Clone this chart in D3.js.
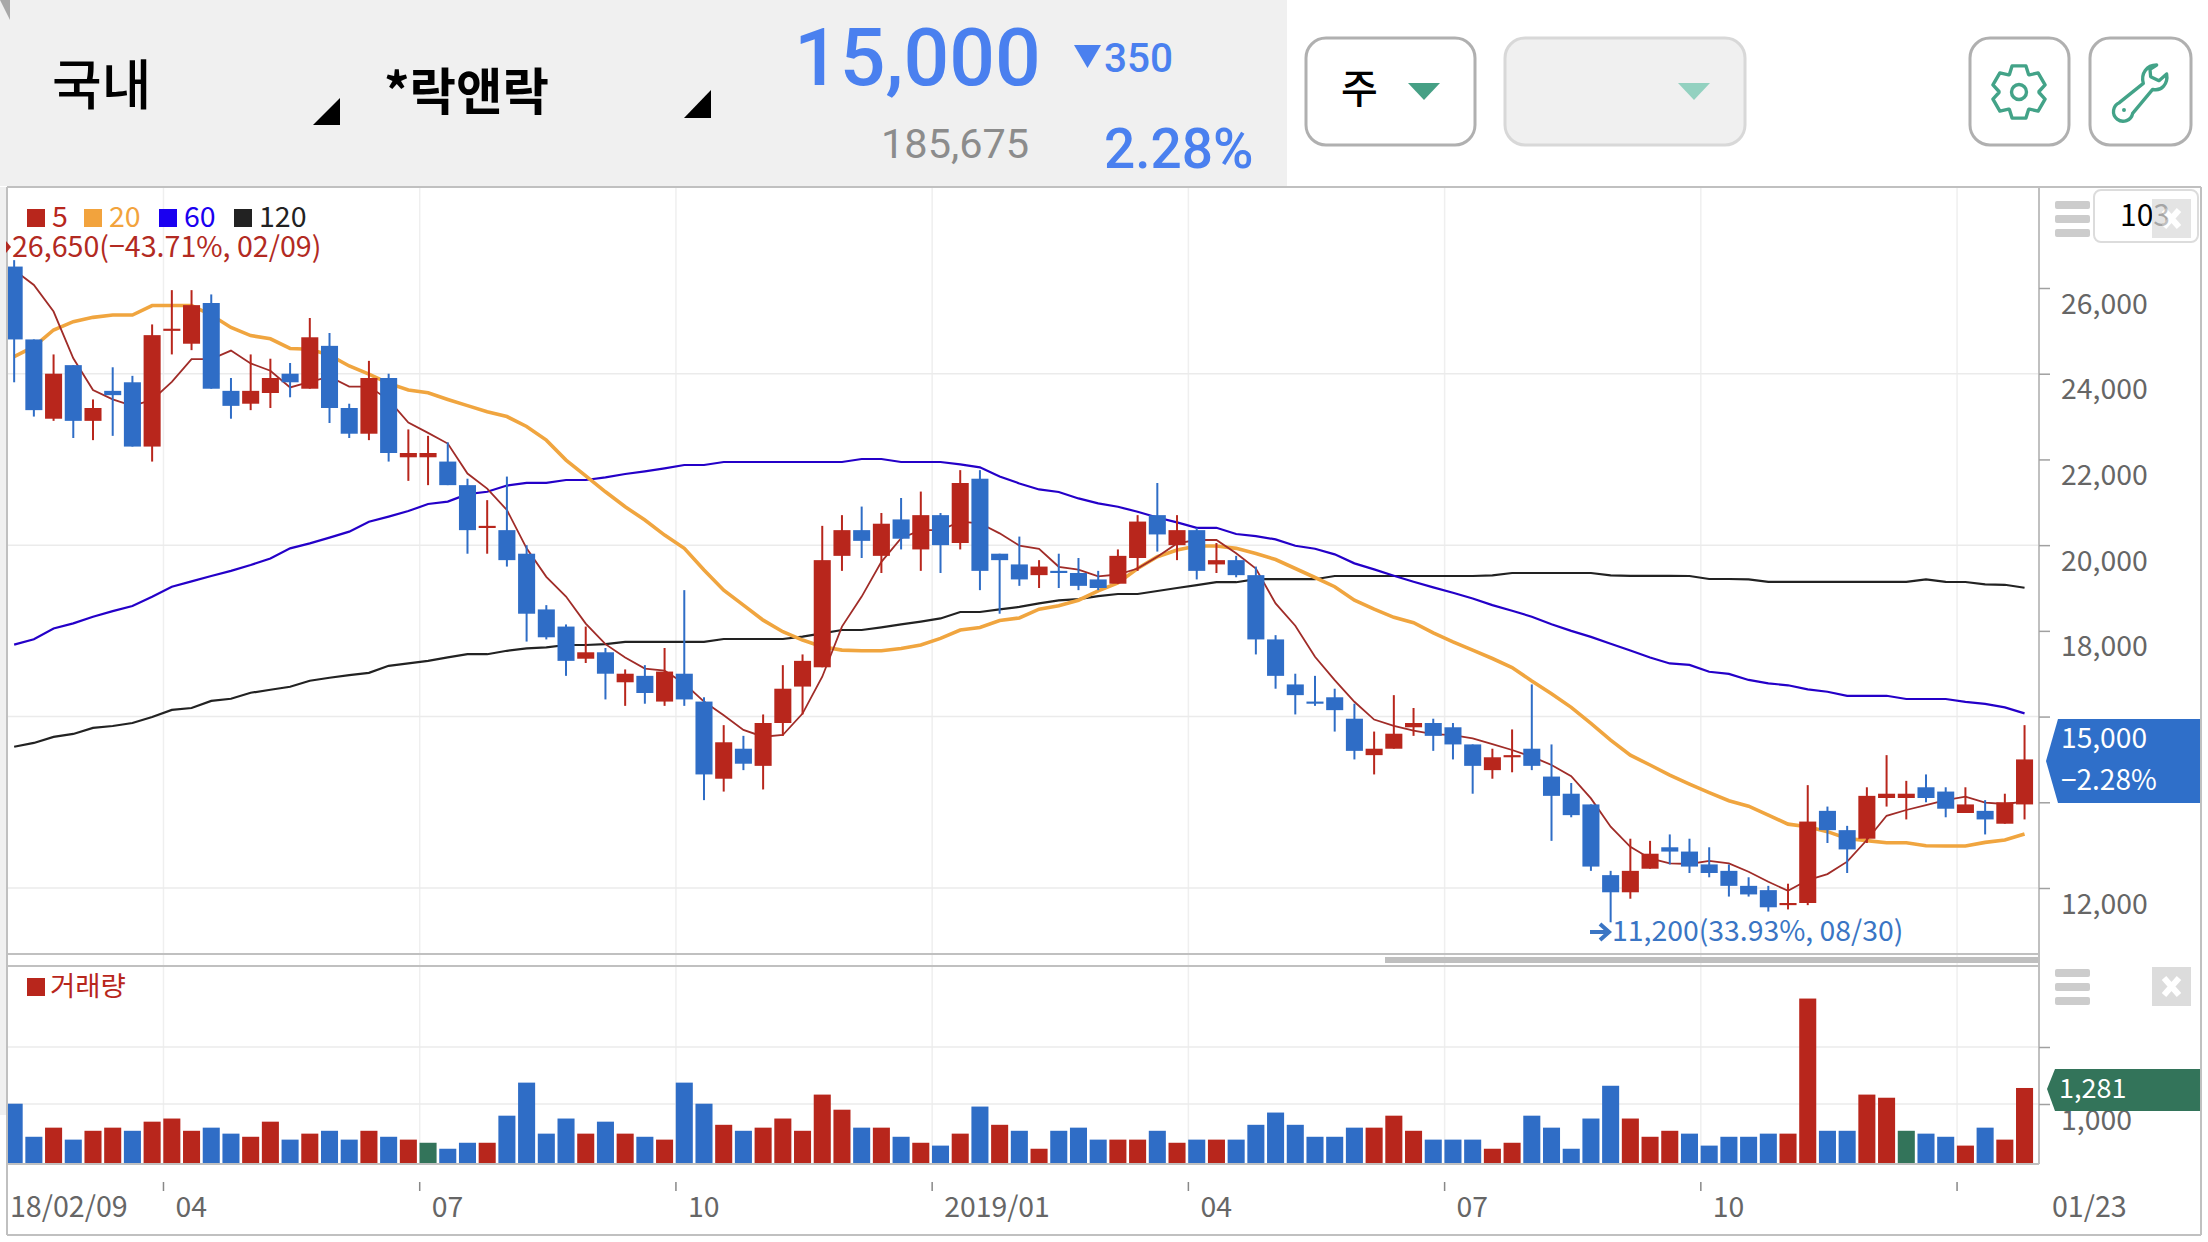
<!DOCTYPE html>
<html>
<head>
<meta charset="utf-8">
<script src="https://d3js.org/d3.v7.min.js"></script>
<style>
  html, body { margin: 0; padding: 0; background: #fff; }
  svg { display: block; }
  text { font-family: "Noto Sans CJK KR", "Noto Sans", sans-serif; }
</style>
</head>
<body>
<svg width="2208" height="1242"></svg>
<script>
// weekly candles
const highs = [26650,24800,24450,24200,23400,24150,23950,25150,25950,25950,25850,23900,24450,24350,24250,25300,24950,23300,24300,24000,22700,22550,22400,21550,21050,21600,20000,18600,18150,18100,17600,17100,17200,17600,18950,16450,15800,15550,16050,17200,17450,20450,20700,20900,20750,21100,21250,20750,21750,21750,19800,20200,19650,19800,19700,19400,19900,20700,21450,20700,20400,20050,19750,19500,17900,17000,16950,16650,16300,15650,16500,16200,15950,15850,15350,15250,15700,16750,15350,14450,13950,12400,13150,13100,13250,13150,12950,12550,12250,12050,12100,14400,13900,13450,14350,15100,14500,14650,14350,14350,14050,14200,15800];
const lows = [23800,23000,22900,22500,22450,22550,22300,21950,24450,24550,23650,22950,23150,23200,23450,23650,22850,22500,22450,21950,21500,21400,21400,19800,19800,19500,17750,17800,16950,17250,16400,16250,16300,16250,16250,14050,14250,14750,14300,15550,16050,17150,19400,19700,19350,19900,19400,19350,19900,18950,18400,19050,19000,19000,18950,18950,19100,19400,19850,19650,19200,19350,19250,17450,16650,16050,16250,15650,15000,14650,15250,15550,15200,15000,14200,14550,14700,14750,13100,13650,12400,11200,11750,12450,12550,12350,12250,11800,11800,11450,11500,11600,13050,12350,13050,13900,13600,14000,13650,13750,13250,13500,13600];
const opens = [26500,24800,22950,24200,22900,23600,23800,22300,25000,24700,25650,23600,23300,23550,24000,23650,24650,23200,22600,23900,22050,22050,21950,21400,20400,20350,19800,18500,18100,17350,17500,16800,16950,16350,17000,16350,14550,15250,14850,15850,16700,17150,19750,20350,19750,20600,19900,20700,20050,21550,19800,19550,19300,19400,19350,19200,19100,19700,20700,20000,20350,19550,19650,19300,17800,16750,16350,16450,15950,15100,15250,15750,15850,15750,15350,14750,15050,15250,14600,14200,13950,12300,11900,12450,12950,12850,12550,12400,12050,11950,11600,11650,13800,13350,13150,14100,14100,14350,14250,13750,13800,13500,13950];
const closes = [24800,23150,24000,22900,23200,23500,22300,24900,25050,25600,23650,23250,23600,23900,23800,24850,23200,22600,23900,22150,22150,22150,21400,20350,20450,19650,18400,17850,17300,17500,17000,17000,16550,17050,16400,14650,15400,14900,15850,16650,17300,19650,20350,20100,20500,20150,20700,20000,21450,19400,19650,19200,19500,19350,19050,19000,19750,20550,20250,20350,19400,19650,19300,17800,16950,16500,16300,16150,15200,15250,15600,15850,15550,15350,14850,15050,15100,14850,14150,13700,12500,11900,12400,12800,12850,12500,12350,12050,11850,11550,11650,13550,13350,12900,14150,14200,14200,14100,13850,13950,13600,14000,15000];

const ma5 = [26420,26070,25450,24360,23620,23400,23250,23390,23810,24340,24340,24540,24240,24070,23680,23810,23930,23700,23700,23390,22860,22620,22370,21670,21320,20820,19925,19260,18800,18170,17690,17380,17120,17070,16770,16350,16030,15690,15530,15570,16070,16930,18100,18800,19610,20160,20350,20350,20550,20510,20275,19990,19915,19495,19430,19270,19315,19455,19730,20040,20120,20120,19810,19455,18640,18120,17395,16850,16345,15930,15785,15670,15590,15565,15490,15355,15220,15065,14870,14610,14090,13430,12960,12690,12575,12560,12635,12575,12380,12145,11935,12185,12325,12615,13120,13685,13820,13935,14050,14130,13990,13960,14015];
const ma20 = [24400,24630,25020,25215,25315,25370,25370,25590,25590,25590,25370,25080,24890,24815,24590,24570,24435,24180,23990,23775,23620,23555,23400,23255,23115,23000,22770,22450,21985,21615,21245,20895,20585,20235,19925,19420,18950,18600,18250,17980,17785,17630,17550,17535,17535,17590,17670,17825,18020,18080,18240,18300,18505,18585,18715,18935,19120,19455,19730,19885,19980,19980,19925,19805,19665,19455,19245,19030,18715,18505,18315,18190,17955,17745,17550,17355,17145,16830,16530,16215,15840,15450,15100,14870,14635,14425,14225,14035,13910,13700,13490,13430,13315,13155,13105,13055,13055,12985,12980,12980,13065,13120,13260];
const ma60 = [17680,17805,18055,18175,18330,18460,18580,18795,19030,19155,19280,19400,19535,19690,19925,20040,20175,20315,20545,20665,20795,20960,21015,21190,21245,21390,21455,21455,21520,21520,21580,21660,21720,21790,21870,21870,21940,21940,21940,21940,21940,21940,21940,22010,22010,21940,21940,21940,21885,21815,21600,21440,21300,21240,21090,20975,20895,20780,20645,20530,20405,20405,20260,20210,20135,19985,19915,19785,19575,19435,19285,19145,19015,18890,18755,18600,18470,18330,18155,18000,17860,17700,17540,17380,17240,17205,17045,16995,16855,16775,16730,16635,16580,16485,16485,16485,16410,16410,16410,16345,16295,16215,16075];
const ma120 = [15295,15385,15525,15595,15735,15780,15850,15990,16155,16200,16365,16415,16555,16625,16695,16835,16905,16965,17020,17185,17240,17300,17380,17455,17455,17535,17590,17615,17670,17670,17690,17745,17745,17745,17745,17745,17810,17810,17810,17810,17865,17940,18020,18020,18080,18150,18215,18290,18440,18440,18500,18560,18640,18710,18740,18810,18860,18860,18930,19000,19065,19135,19135,19205,19205,19205,19205,19280,19280,19280,19280,19280,19280,19280,19280,19295,19350,19350,19350,19350,19350,19295,19285,19285,19285,19280,19210,19210,19200,19145,19145,19145,19145,19145,19145,19145,19145,19200,19145,19140,19085,19075,19005];

// volume, and its up(1) / down(-1) / flat(0) flag
const volume = [1005,425,585,375,530,585,530,690,745,530,585,480,425,690,375,480,530,375,530,425,375,320,215,320,320,795,1375,480,745,480,690,480,425,375,1375,1005,635,530,585,745,530,1165,900,585,585,425,320,270,480,955,635,530,215,530,585,375,375,375,530,320,375,375,375,635,850,635,425,425,585,585,795,530,375,375,375,215,320,795,585,215,745,1320,745,425,530,480,270,425,425,480,480,2850,530,530,1165,1110,530,480,425,270,585,375,1281];
const volumeDir = [-1,-1,1,-1,1,1,-1,1,1,1,-1,-1,1,1,-1,1,-1,-1,1,-1,1,0,-1,-1,1,-1,-1,-1,-1,1,-1,1,-1,1,-1,-1,1,-1,1,1,1,1,1,-1,1,-1,1,-1,1,-1,1,-1,1,-1,-1,-1,1,1,-1,1,-1,1,-1,-1,-1,-1,-1,-1,-1,1,1,1,-1,-1,-1,1,1,-1,-1,-1,-1,-1,1,1,1,-1,-1,-1,-1,-1,1,1,-1,-1,1,1,0,-1,-1,1,-1,1,1];

const priceTicks = [12000,14000,16000,18000,20000,22000,24000,26000];
const priceLabelled = [12000,18000,20000,22000,24000,26000];
const priceGrid = [12000,16000,20000,24000];
const volumeTicks = [1000,2000];
const volumeLabelled = [1000];
const monthIdx = [8,21,34,47,60,73,86,99];
const monthLabels = ["04","07","10","2019/01","04","07","10",""];
const firstDate = "18/02/09";
const lastDate = "01/23";
const legend = [["5","#b8261c"],["20","#f2a33d"],["60","#1a00f0"],["120","#222222"]];

const RED = "#b8261c", BLUE = "#2f6dc6", GREEN = "#33745a", ACCENT = "#4a80ef", TEAL = "#43a388";
const svg = d3.select("svg");

const x = d3.scaleBand().domain(d3.range(highs.length)).range([4.3, 2034.4])
    .paddingInner(0.135).paddingOuter(0.0675);
const cx = i => x(i) + x.bandwidth() / 2;
const gridX = i => cx(i) - x.step() / 2 + 1.5;
const y = d3.scaleLinear().domain([12000, 26000]).range([888, 288]);
const yVol = d3.scaleLinear().domain([1000, 2000]).range([1104, 1047]);
const VOL_BASE = 1164;

// header
svg.append("rect").attr("width", 1287).attr("height", 186).attr("fill", "#f0f0f0");
svg.append("path").attr("d", "M0,0L10,0L10,20Z").attr("fill", "#a8a8a8");

function label(t, px, py, size, fill, weight, anchor) {
  return svg.append("text").text(t).attr("x", px).attr("y", py)
    .attr("font-size", size).attr("fill", fill)
    .attr("font-weight", weight || 400).attr("text-anchor", anchor || "start");
}
label("국내", 52, 105, 54, "#000", 500);
svg.append("path").attr("d", "M340,98L340,125L313,125Z");
label("*락앤락", 384, 110, 50.5, "#000", 700);
svg.append("path").attr("d", "M711,90L711,118L684,118Z");
svg.append("text").text("15,000").attr("x", 794).attr("y", 85).attr("font-size", 80.5)
  .attr("font-weight", 500).attr("fill", ACCENT).style("font-family", "Roboto");
svg.append("path").attr("d", "M1074,45L1101,45L1087.5,68Z").attr("fill", ACCENT);
svg.append("text").text("350").attr("x", 1104).attr("y", 72).attr("font-size", 40.5)
  .attr("font-weight", 500).attr("fill", ACCENT).style("font-family", "Roboto");
svg.append("text").text("185,675").attr("x", 881).attr("y", 158).attr("font-size", 41.5)
  .attr("fill", "#8c8c8c").style("font-family", "Roboto");
svg.append("text").text("2.28%").attr("x", 1104).attr("y", 168).attr("font-size", 55)
  .attr("font-weight", 500).attr("fill", ACCENT).style("font-family", "Roboto");

// buttons
function button(x0, x1, fill, stroke) {
  svg.append("rect").attr("x", x0).attr("y", 38).attr("width", x1 - x0).attr("height", 107)
    .attr("rx", 20).attr("fill", fill).attr("stroke", stroke).attr("stroke-width", 3);
}
button(1306, 1475, "#fff", "#b0b0b0");
label("주", 1341, 103, 40, "#000", 500);
svg.append("path").attr("d", "M1408,83L1440,83L1424,100Z").attr("fill", "#46a085");
button(1505, 1745, "#f0f0f0", "#d8d8d8");
svg.append("path").attr("d", "M1678,83L1710,83L1694,100Z").attr("fill", "#93d1c0");
button(1970, 2069, "#fff", "#b0b0b0");
button(2090, 2191, "#fff", "#b0b0b0");

// gear outline: six teeth around a ring
const gearPts = [];
d3.range(6).forEach(k => {
  const a = -Math.PI / 2 + k * Math.PI / 3;
  [[-0.5, 20], [-0.26, 27], [0.26, 27], [0.5, 20]].forEach(([d, r]) => {
    gearPts.push([r * Math.cos(a + d), r * Math.sin(a + d)]);
  });
});
const gear = svg.append("g").attr("transform", "translate(2019,92)")
  .attr("fill", "none").attr("stroke", TEAL).attr("stroke-width", 3.4).attr("stroke-linejoin", "round");
gear.append("path").attr("d", d3.line()(gearPts) + "Z");
gear.append("circle").attr("r", 7.5);

const wrench = svg.append("g").attr("transform", "translate(1960,30) scale(0.3333)")
  .attr("fill", "none").attr("stroke", TEAL).attr("stroke-width", 10).attr("stroke-linejoin", "round");
wrench.append("path").attr("d", "M590,105C560,105 542,130 550,160L478,218A29,29 0 1 0 518,250L578,178C605,185 625,160 620,132L597,152L572,140L570,118Z");
wrench.append("circle").attr("cx", 492).attr("cy", 240).attr("r", 6).attr("fill", TEAL).attr("stroke", "none");

// grids
const grid = svg.append("g");
grid.selectAll("line.v").data(monthIdx).join("line")
  .attr("x1", gridX).attr("x2", gridX).attr("y1", 187).attr("y2", VOL_BASE)
  .attr("stroke", "#efefef").attr("stroke-width", 1.5);
grid.selectAll("line.p").data(priceGrid).join("line")
  .attr("x1", 7).attr("x2", 2039).attr("y1", d => y(d)).attr("y2", d => y(d))
  .attr("stroke", "#ebebeb").attr("stroke-width", 1.5);
grid.selectAll("line.w").data(volumeTicks).join("line")
  .attr("x1", 7).attr("x2", 2039).attr("y1", d => yVol(d)).attr("y2", d => yVol(d))
  .attr("stroke", "#ebebeb").attr("stroke-width", 1.5);

// moving averages sit under the candles
const maLine = d3.line().x((d, i) => cx(i)).y(d => y(d));
[[ma120, "#222222", 2.2], [ma60, "#2400c8", 2.2], [ma20, "#f0a53f", 3.6], [ma5, "#a02c28", 1.8]].forEach(([s, c, w]) => {
  svg.append("path").attr("d", maLine(s)).attr("fill", "none").attr("stroke", c).attr("stroke-width", w);
});

// candles
const candle = svg.append("g").selectAll("g").data(highs).join("g")
  .attr("fill", (d, i) => closes[i] >= opens[i] ? RED : BLUE)
  .attr("stroke", (d, i) => closes[i] >= opens[i] ? RED : BLUE);
candle.append("line")
  .attr("x1", (d, i) => cx(i)).attr("x2", (d, i) => cx(i))
  .attr("y1", d => y(d)).attr("y2", (d, i) => y(lows[i])).attr("stroke-width", 2);
candle.append("rect")
  .attr("x", (d, i) => x(i)).attr("width", x.bandwidth())
  .attr("y", (d, i) => y(Math.max(opens[i], closes[i])))
  .attr("height", (d, i) => y(Math.min(opens[i], closes[i])) - y(Math.max(opens[i], closes[i])))
  .attr("stroke", "none");

// volume bars
svg.append("g").selectAll("rect").data(volume).join("rect")
  .attr("x", (d, i) => x(i)).attr("width", x.bandwidth())
  .attr("y", d => yVol(d)).attr("height", d => VOL_BASE - yVol(d))
  .attr("fill", (d, i) => volumeDir[i] > 0 ? RED : volumeDir[i] < 0 ? BLUE : GREEN);

// left strip and frame
svg.append("rect").attr("x", 0).attr("y", 187).attr("width", 6).attr("height", 928).attr("fill", "#f0f0f0");
svg.append("rect").attr("x", 0).attr("y", 1115).attr("width", 6).attr("height", 127).attr("fill", "#fff");
const frame = [[7, 187, 2201, 187], [7, 954, 2039, 954], [7, 966, 2039, 966], [7, VOL_BASE, 2039, VOL_BASE],
  [7, 1235, 2201, 1235], [7, 187, 7, 1235], [2039, 187, 2039, 1164], [2201, 187, 2201, 1235]];
svg.append("g").selectAll("line").data(frame).join("line")
  .attr("x1", d => d[0]).attr("y1", d => d[1]).attr("x2", d => d[2]).attr("y2", d => d[3])
  .attr("stroke", "#c0c0c0").attr("stroke-width", 2);
svg.append("rect").attr("x", 1385).attr("y", 957).attr("width", 653).attr("height", 6).attr("fill", "#bfbfbf");

// axes
function styleAxis(g) {
  g.select(".domain").remove();
  g.selectAll("line").attr("stroke", "#a0a0a0").attr("stroke-width", 1.5);
  g.selectAll("text").attr("fill", "#666").attr("font-size", 28.4).attr("dy", 25);
}
const fmt = d3.format(",");
svg.append("g").attr("transform", "translate(2039,0)")
  .call(d3.axisRight(y).tickValues(priceTicks).tickSize(11).tickPadding(11)
    .tickFormat(d => priceLabelled.includes(d) ? fmt(d) : ""))
  .call(styleAxis);
svg.append("g").attr("transform", "translate(2039,0)")
  .call(d3.axisRight(yVol).tickValues(volumeTicks).tickSize(11).tickPadding(11)
    .tickFormat(d => volumeLabelled.includes(d) ? fmt(d) : ""))
  .call(styleAxis);

svg.append("g").selectAll("line").data(monthIdx).join("line")
  .attr("x1", gridX).attr("x2", gridX).attr("y1", 1182).attr("y2", 1191)
  .attr("stroke", "#888").attr("stroke-width", 1.5);
svg.append("g").selectAll("text").data(monthIdx).join("text")
  .attr("x", d => gridX(d) + 12).attr("y", 1217)
  .text((d, i) => monthLabels[i]).attr("font-size", 28.4).attr("fill", "#666");
label(firstDate, 10, 1217, 28.6, "#666");
label(lastDate, 2052, 1217, 28.6, "#666");

// legends
const legendX = [27, 84, 159, 234];
legend.forEach(([t, c], k) => {
  svg.append("rect").attr("x", legendX[k]).attr("y", 209).attr("width", 18).attr("height", 18).attr("fill", c);
  label(t, legendX[k] + 25, 227, 28.5, c);
});
label("26,650(−43.71%, 02/09)", 12, 257, 28.6, "#b22a22");
svg.append("path").attr("d", "M6,241L11,247L6,253Z").attr("fill", "#b22a22");
svg.append("path").attr("d", "M1590,932L1606,932M1600,924L1609,932L1600,940")
  .attr("fill", "none").attr("stroke", "#3a75c4").attr("stroke-width", 4);
label("11,200(33.93%, 08/30)", 1612, 941, 28.4, "#3a75c4");
svg.append("rect").attr("x", 27).attr("y", 978).attr("width", 18).attr("height", 18).attr("fill", RED);
label("거래량", 50, 996, 27.5, RED);

// hamburgers, close buttons, count box
function burger(ys) {
  svg.append("g").selectAll("rect").data(ys).join("rect")
    .attr("x", 2055).attr("y", d => d).attr("width", 35).attr("height", 8).attr("rx", 2).attr("fill", "#cccccc");
}
burger([201, 215, 229]);
burger([969, 983, 997]);
function closeBtn(x0, y0, opacity) {
  const g = svg.append("g").attr("opacity", opacity);
  g.append("rect").attr("x", x0).attr("y", y0).attr("width", 39).attr("height", 39).attr("fill", "#dcdcdc");
  g.append("path").attr("d", `M${x0 + 12},${y0 + 11}L${x0 + 27},${y0 + 28}M${x0 + 27},${y0 + 11}L${x0 + 12},${y0 + 28}`)
    .attr("stroke", "#fff").attr("stroke-width", 6).attr("fill", "none");
}
svg.append("rect").attr("x", 2094).attr("y", 190).attr("width", 104).attr("height", 52).attr("rx", 7)
  .attr("fill", "#fff").attr("stroke", "#dcdcdc").attr("stroke-width", 2);
label("103", 2145, 226, 30, "#000", 400, "middle");
closeBtn(2152, 199, 0.75);
closeBtn(2152, 967, 1);

// last value tags
svg.append("path").attr("d", "M2046,761L2058,719L2200,719L2200,803L2058,803Z").attr("fill", "#2f6fc9");
label("15,000", 2061, 748, 28.2, "#fff");
label("−2.28%", 2061, 790, 28, "#fff");
svg.append("path").attr("d", "M2047,1089L2055,1069L2200,1069L2200,1111L2055,1111Z").attr("fill", GREEN);
label("1,281", 2059, 1098, 27, "#fff");
</script>
</body>
</html>
